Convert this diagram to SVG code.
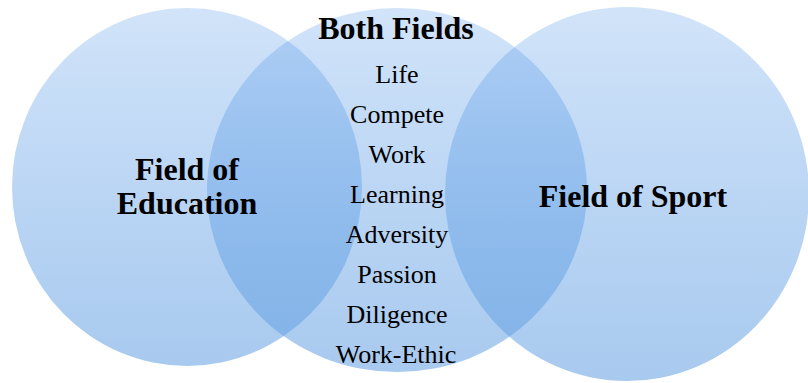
<svg xmlns="http://www.w3.org/2000/svg" width="808" height="383" viewBox="0 0 808 383">
<defs>
<linearGradient id="g" x1="0" y1="0" x2="0" y2="1">
<stop offset="0" stop-color="#5096e8" stop-opacity="0.26"/>
<stop offset="1" stop-color="#64a0e1" stop-opacity="0.56"/>
</linearGradient>
<style>
.c{fill:url(#g);}
.h{font-family:"Liberation Serif","Times New Roman",serif;font-weight:bold;font-size:32px;fill:#000;text-anchor:middle;}
.t{font-family:"Liberation Serif","Times New Roman",serif;font-size:26px;fill:#000;text-anchor:middle;}
</style>
</defs>
<rect width="808" height="383" fill="#fff"/>
<g id="education">
<ellipse class="c" cx="187" cy="187" rx="175" ry="179"/>
</g>
<g id="both">
<ellipse class="c" cx="397" cy="190" rx="190" ry="182"/>
</g>
<g id="sport">
<ellipse class="c" cx="627" cy="194" rx="182" ry="187"/>
</g>
<g id="labels">
<text class="h" x="187" y="180">Field of</text>
<text class="h" x="187" y="214">Education</text>
<text class="h" x="633" y="207">Field of Sport</text>
<text class="h" x="396" y="39">Both Fields</text>
<text class="t" x="397" y="83">Life</text>
<text class="t" x="397" y="123">Compete</text>
<text class="t" x="397" y="163">Work</text>
<text class="t" x="397" y="203">Learning</text>
<text class="t" x="397" y="243">Adversity</text>
<text class="t" x="397" y="283">Passion</text>
<text class="t" x="397" y="323">Diligence</text>
<text class="t" x="396" y="363">Work-Ethic</text>
</g>
</svg>
